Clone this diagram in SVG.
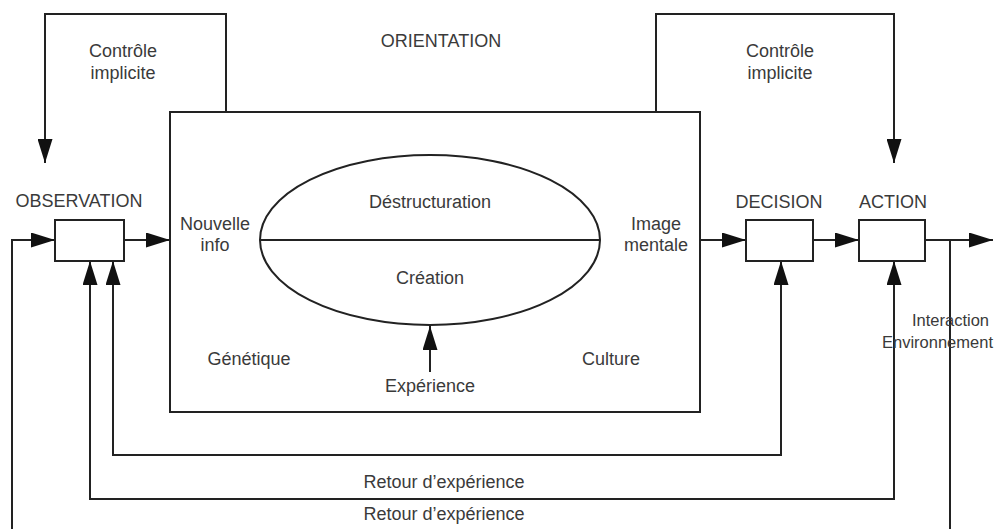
<svg xmlns="http://www.w3.org/2000/svg" width="996" height="529" viewBox="0 0 996 529">
<style>
  .ln{fill:none;stroke:#222;stroke-width:2}
  .bx{fill:#fff;stroke:#222;stroke-width:2}
  .t{font-family:"Liberation Sans",Arial,sans-serif;font-size:18px;fill:#3a3a3a;text-anchor:middle}
  .ts{font-family:"Liberation Sans",Arial,sans-serif;font-size:16.5px;fill:#3a3a3a;text-anchor:start}
</style>
<defs>
  <marker id="ah" viewBox="0 0 24 15" refX="24" refY="7.5" markerWidth="24" markerHeight="15" orient="auto-start-reverse" markerUnits="userSpaceOnUse">
    <path d="M0,0 L24,7.5 L0,15 z" fill="#111"/>
  </marker>
</defs>
<rect width="996" height="529" fill="#fff"/>

<g id="connectors">
  <path class="ln" d="M226,112 V14 H45 V163" marker-end="url(#ah)"/>
  <path class="ln" d="M656,112 V14 H894 V163" marker-end="url(#ah)"/>
  <path class="ln" d="M12,529 V240 H55" marker-end="url(#ah)"/>
  <path class="ln" d="M124,240 H170" marker-end="url(#ah)"/>
  <path class="ln" d="M700,240 H746" marker-end="url(#ah)"/>
  <path class="ln" d="M813,240 H859" marker-end="url(#ah)"/>
  <path class="ln" d="M925,240 H993" marker-end="url(#ah)"/>
  <path class="ln" d="M950,240 V529"/>
  <path class="ln" d="M113,261 V455 H781 V261" marker-start="url(#ah)" marker-end="url(#ah)"/>
  <path class="ln" d="M90,261 V499 H894 V261" marker-start="url(#ah)" marker-end="url(#ah)"/>
  <path class="ln" d="M430,372 V326" marker-end="url(#ah)"/>
</g>

<g id="orientation">
  <rect class="bx" x="170" y="112" width="530" height="300" style="fill:none"/>
  <ellipse class="ln" cx="430" cy="240" rx="170" ry="85"/>
  <line class="ln" x1="260" y1="240" x2="600" y2="240"/>
  <text class="t" x="441" y="47">ORIENTATION</text>
  <text class="t" x="430" y="208">Déstructuration</text>
  <text class="t" x="430" y="284">Création</text>
  <text class="t" x="215" y="230">Nouvelle</text>
  <text class="t" x="215" y="251">info</text>
  <text class="t" x="656" y="230">Image</text>
  <text class="t" x="656" y="251">mentale</text>
  <text class="t" x="249" y="365">Génétique</text>
  <text class="t" x="611" y="365">Culture</text>
  <text class="t" x="430" y="392">Expérience</text>
</g>

<g id="observation">
  <rect class="bx" x="55" y="220" width="69" height="41"/>
  <text class="t" x="79" y="207">OBSERVATION</text>
</g>

<g id="decision">
  <rect class="bx" x="746" y="220" width="67" height="41"/>
  <text class="t" x="779" y="208">DECISION</text>
</g>

<g id="action">
  <rect class="bx" x="859" y="220" width="66" height="41"/>
  <text class="t" x="893" y="208">ACTION</text>
</g>

<g id="labels">
  <text class="t" x="123" y="57">Contrôle</text>
  <text class="t" x="123" y="79">implicite</text>
  <text class="t" x="780" y="57">Contrôle</text>
  <text class="t" x="780" y="79">implicite</text>
  <text class="t" x="444" y="488">Retour d’expérience</text>
  <text class="t" x="444" y="520">Retour d’expérience</text>
  <text class="ts" x="912" y="326">Interaction</text>
  <text class="ts" x="882" y="348">Environnement</text>
</g>
</svg>
